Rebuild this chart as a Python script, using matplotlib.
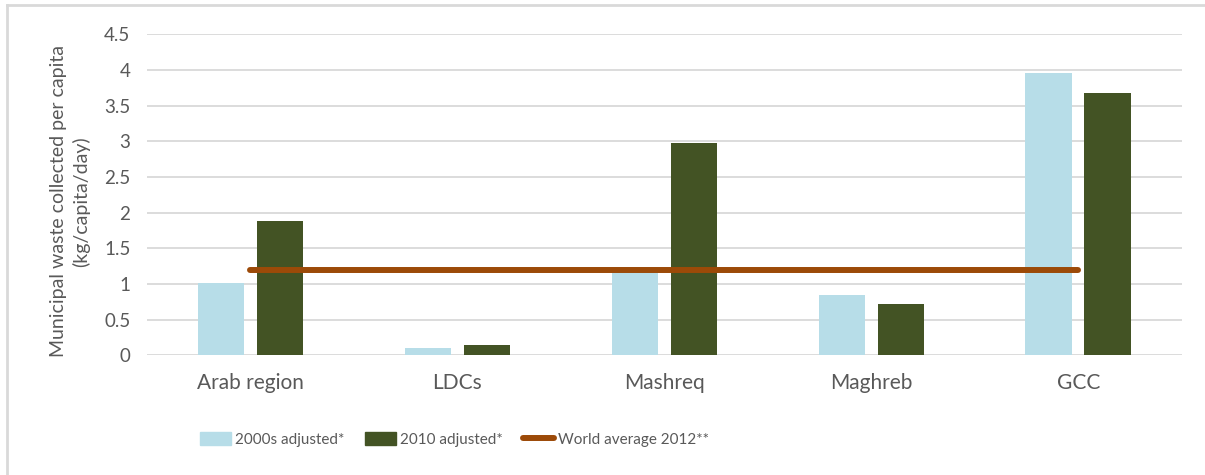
import numpy as np
import matplotlib.pyplot as plt
from matplotlib.lines import Line2D

# Data
regions = ['Arab region', 'LDCs', 'Mashreq', 'Maghreb', 'GCC']
adj_2000s = [1.02, 0.10, 1.24, 0.85, 3.96]
adj_2010 = [1.88, 0.15, 2.97, 0.72, 3.68]
world_avg_2012 = [1.2, 1.2, 1.2, 1.2, 1.2]

c_blue = '#B7DDE8'
c_green = '#435324'
c_line = '#9C4A08'
c_text = '#595959'
c_grid = '#D9D9D9'

plt.rcParams['font.family'] = ['Lato', 'DejaVu Sans']

fig = plt.figure(figsize=(12.05, 4.75), dpi=100)
ax = fig.add_axes([0.122, 0.252, 0.8587, 0.6758])

x = np.arange(len(regions))
w = 0.225
off = 0.1425
ax.bar(x - off, adj_2000s, w, color=c_blue, label='2000s adjusted*', zorder=2)
ax.bar(x + off, adj_2010, w, color=c_green, label='2010 adjusted*', zorder=2)
ax.plot(x, world_avg_2012, color=c_line, lw=4.3, solid_capstyle='round',
        label='World average 2012**', zorder=3)

ax.set_xlim(-0.5, len(regions) - 0.5)
ax.set_ylim(0, 4.5)
ax.set_yticks(np.arange(0, 4.51, 0.5))
ax.set_yticklabels(['0', '0.5', '1', '1.5', '2', '2.5', '3', '3.5', '4', '4.5'])
ax.set_xticks(x)
ax.set_xticklabels(regions)
ax.tick_params(axis='both', length=0, colors=c_text)
ax.tick_params(axis='x', pad=13, labelsize=15)
ax.tick_params(axis='y', pad=12, labelsize=13.5)
ax.yaxis.grid(True, color=c_grid, lw=1.3, zorder=0)
ax.set_axisbelow(True)
for s in ax.spines.values():
    s.set_visible(False)

ax.set_ylabel('Municipal waste collected per capita\n(kg/capita/day)',
              fontsize=14, color=c_text, linespacing=1.35)
ax.yaxis.set_label_coords(-0.055, 0.48)

handles = [plt.Rectangle((0, 0), 1, 1, color=c_blue),
           plt.Rectangle((0, 0), 1, 1, color=c_green),
           Line2D([0], [0], color=c_line, lw=4.3, solid_capstyle='round')]
labels = ['2000s adjusted*', '2010 adjusted*', 'World average 2012**']
leg = fig.legend(handles, labels, loc='center', bbox_to_anchor=(0.377, 0.074),
                 ncol=3, frameon=False, fontsize=11, handlelength=2.03,
                 handleheight=0.92, handletextpad=0.26, columnspacing=1.35)
for t in leg.get_texts():
    t.set_color(c_text)

# chart area border (top and left visible)
fig.add_artist(Line2D([7 / 1205, 7 / 1205], [0, 1 - 5 / 475], color=c_grid,
                      lw=2, transform=fig.transFigure))
fig.add_artist(Line2D([7 / 1205, 1], [1 - 5 / 475, 1 - 5 / 475], color=c_grid,
                      lw=2, transform=fig.transFigure))

fig.savefig('out.png', dpi=100, facecolor='white')
